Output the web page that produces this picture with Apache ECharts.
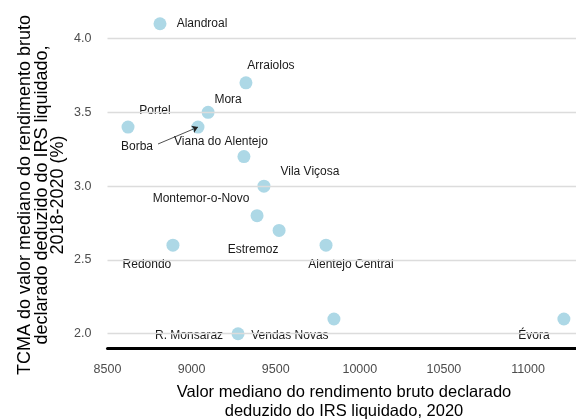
<!DOCTYPE html>
<html>
<head>
<meta charset="utf-8">
<script src="https://cdn.jsdelivr.net/npm/echarts@6.0.0/dist/echarts.min.js"></script>
<style>
  html, body { margin: 0; padding: 0; background: #fff; }
  #chart { width: 576px; height: 419px; }
</style>
</head>
<body>
<div id="chart"></div>
<script>
// concelhos do Alentejo Central
const names = ['Alandroal', 'Arraiolos', 'Mora', 'Portel', 'Borba', 'Viana do Alentejo',
  'Vila Viçosa', 'Montemor-o-Novo', 'Estremoz', 'Redondo', 'Alentejo Central',
  'Vendas Novas', 'R. Monsaraz', 'Évora'];
// rendimento bruto declarado deduzido do IRS liquidado, 2020
const rendimento = [8812, 9323, 9098, 8622, 9038, 9311, 9430, 9389, 9520, 8889, 9799, 9846, 9276, 11213];
// TCMA 2018-2020 (%)
const tcma = [4.1, 3.7, 3.5, 3.4, 3.4, 3.2, 3.0, 2.8, 2.7, 2.6, 2.6, 2.1, 2.0, 2.1];

const xTicks = [8500, 9000, 9500, 10000, 10500, 11000];
const yTicks = [2.0, 2.5, 3.0, 3.5, 4.0];

// deslocamento dos rótulos (px), estilo ggrepel
const labelOffset = {
  'Alandroal': [42, 0],
  'Arraiolos': [25, -17],
  'Mora': [20, -13],
  'Portel': [27, -16],
  'Borba': [-61, 20],
  'Viana do Alentejo': [-23, -15],
  'Vila Viçosa': [46, -14],
  'Montemor-o-Novo': [-56, -17],
  'Estremoz': [-26, 19],
  'Redondo': [-26, 20],
  'Alentejo Central': [25, 20],
  'Vendas Novas': [-44, 17],
  'R. Monsaraz': [-49, 2],
  'Évora': [-30, 17]
};

const font = '"Liberation Sans", Arial, sans-serif';

let points = names.map(function (n, i) {
  return {
    name: n,
    value: [rendimento[i], tcma[i]],
    label: {offset: labelOffset[n]}
  };
});

let borba = names.indexOf('Borba');

let option = {
  animation: false,
  grid: {left: 107.5, right: 0, top: 9, bottom: 70.5},
  xAxis: {
    type: 'value',
    min: 8500,
    max: 11285,
    interval: 500,
    axisLine: {show: true, onZero: false, lineStyle: {color: '#000', width: 3}},
    axisTick: {show: false},
    splitLine: {show: false},
    axisLabel: {
      customValues: xTicks,
      formatter: function (v) { return String(v); },
      color: '#4d4d4d',
      fontFamily: font,
      fontSize: 12.5,
      margin: 15
    }
  },
  yAxis: {
    type: 'value',
    min: 1.9,
    max: 4.2,
    axisLine: {show: false},
    axisTick: {show: false},
    splitLine: {show: false},
    axisLabel: {
      customValues: yTicks,
      formatter: function (v) { return v.toFixed(1); },
      color: '#4d4d4d',
      fontFamily: font,
      fontSize: 12.5,
      margin: 16
    }
  },
  series: [
    {
      // linhas de grelha horizontais
      type: 'scatter',
      data: [],
      z: 1,
      silent: true,
      markLine: {
        silent: true,
        symbol: ['none', 'none'],
        label: {show: false},
        lineStyle: {color: '#dcdcdc', width: 1.3, type: 'solid'},
        data: yTicks.map(function (v) { return {yAxis: v}; })
      }
    },
    {
      type: 'scatter',
      z: 3,
      symbolSize: 13,
      itemStyle: {color: '#add8e6', opacity: 1},
      label: {
        show: true,
        position: 'inside',
        formatter: '{b}',
        color: '#1a1a1a',
        fontFamily: font,
        fontSize: 12
      },
      data: points,
      markLine: {
        silent: true,
        symbol: ['none', 'arrow'],
        symbolSize: 6,
        label: {show: false},
        lineStyle: {color: '#222', width: 0.8, type: 'solid'},
        data: [[
          {x: 158, y: 144},
          {coord: [rendimento[borba], tcma[borba]]}
        ]]
      }
    }
  ],
  graphic: [
    {
      type: 'text',
      x: 42,
      y: 195,
      rotation: Math.PI / 2,
      style: {
        text: 'TCMA do valor mediano do rendimento bruto\ndeclarado deduzido do IRS liquidado,\n2018-2020 (%)',
        font: '18px ' + font,
        fill: '#000',
        align: 'center',
        verticalAlign: 'middle',
        lineHeight: 16.5
      }
    },
    {
      type: 'text',
      x: 344,
      y: 402,
      style: {
        text: 'Valor mediano do rendimento bruto declarado\ndeduzido do IRS liquidado, 2020',
        font: '16.5px ' + font,
        fill: '#000',
        align: 'center',
        verticalAlign: 'middle',
        lineHeight: 19
      }
    }
  ]
};

let myChart = echarts.init(document.getElementById('chart'));
myChart.setOption(option);
</script>
</body>
</html>
